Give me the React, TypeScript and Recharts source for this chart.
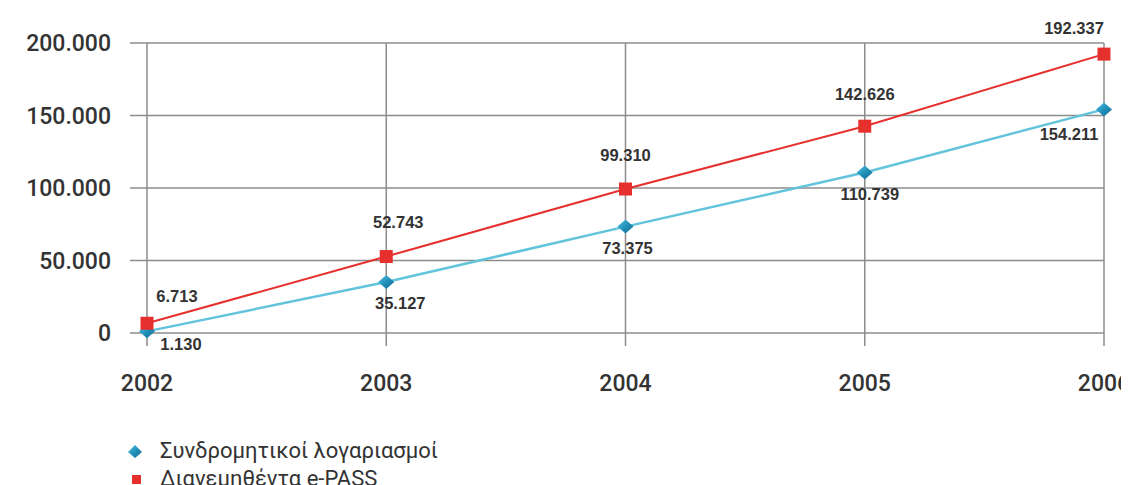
import React from "react";
import { LineChart, Line, XAxis, YAxis, CartesianGrid, LabelList } from "recharts";

const years = [2002, 2003, 2004, 2005, 2006];
const accounts = [1130, 35127, 73375, 110739, 154211];
const epass = [6713, 52743, 99310, 142626, 192337];
const yTicks = [0, 50000, 100000, 150000, 200000];
const seriesNames = ["Συνδρομητικοί λογαριασμοί", "Διανεμηθέντα e-PASS"];

const data = years.map((y, i) => ({ year: y, accounts: accounts[i], epass: epass[i] }));

const fmt = (v: number) => String(Math.round(v)).replace(/\B(?=(\d{3})+(?!\d))/g, ".");

const RED = "#e5302e";
const BLUE_LINE = "#62c3dc";
const GRID = "#8c8c8c";
const TEXT = "#333333";
const FONT = "'Liberation Sans', Arial, sans-serif";
const TICK_FONT = "Roboto, 'Liberation Sans', Arial, sans-serif";

const redLabelOffsets = [
  [30, -27],
  [12, -35],
  [0, -34],
  [0, -32],
  [-30, -26],
];
const blueLabelOffsets = [
  [34, 13],
  [14, 21],
  [2, 21],
  [5, 22],
  [-35, 25],
];

const makeLabel = (offsets: number[][]) => (props: any) => {
  const { x, y, value, index } = props;
  const [dx, dy] = offsets[index] || [0, 0];
  return (
    <text
      x={x + dx}
      y={y + dy}
      textAnchor="middle"
      dominantBaseline="central"
      fontFamily={FONT}
      fontSize={16.5}
      fontWeight="bold"
      fill={TEXT}
    >
      {fmt(value)}
    </text>
  );
};

const SquareDot = (props: any) => {
  const { cx, cy, index } = props;
  if (cx == null || cy == null) return <g key={`s${index}`} />;
  return <rect key={`s${index}`} x={cx - 6.5} y={cy - 6.5} width={13} height={13} fill={RED} />;
};

const DiamondDot = (props: any) => {
  const { cx, cy, index } = props;
  if (cx == null || cy == null) return <g key={`d${index}`} />;
  const w = 8, h = 7;
  return (
    <g key={`d${index}`}>
      <polygon points={`${cx - w},${cy} ${cx},${cy - h} ${cx + w},${cy} ${cx},${cy + h}`} fill="url(#diamondGrad)" />
    </g>
  );
};

export default function App() {
  return (
    <div style={{ position: "relative", width: 1121, height: 477 }}>
      <LineChart
        width={1121}
        height={477}
        data={data}
        margin={{ top: 35, right: 25, bottom: 92, left: 0 }}
      >
        <defs>
          <linearGradient id="diamondGrad" x1="0" y1="0" x2="1" y2="1">
            <stop offset="0%" stopColor="#4cc0e3" />
            <stop offset="55%" stopColor="#1f8cb6" />
            <stop offset="100%" stopColor="#156e93" />
          </linearGradient>
        </defs>
        <CartesianGrid stroke={GRID} strokeWidth={1.5} vertical={true} horizontal={true} />
        <XAxis
          dataKey="year"
          type="number"
          domain={[2002, 2006]}
          ticks={years}
          axisLine={false}
          tickLine={{ stroke: GRID, strokeWidth: 1.5 }}
          tickSize={13}
          tickMargin={29}
          height={60}
          interval={0}
          tick={{ fill: TEXT, fontSize: 23, fontFamily: TICK_FONT, fontWeight: 500 }}
        />
        <YAxis
          type="number"
          domain={[0, 200000]}
          ticks={yTicks}
          axisLine={false}
          tickLine={{ stroke: GRID, strokeWidth: 1.5 }}
          tickSize={17}
          tickMargin={19}
          width={139}
          tickFormatter={fmt}
          tick={{ fill: TEXT, fontSize: 23, fontFamily: TICK_FONT, fontWeight: 500 }}
        />
        <Line
          dataKey="accounts"
          stroke={BLUE_LINE}
          strokeWidth={2.5}
          dot={DiamondDot}
          activeDot={false}
          isAnimationActive={false}
        >
          <LabelList dataKey="accounts" content={makeLabel(blueLabelOffsets)} />
        </Line>
        <Line
          dataKey="epass"
          stroke={RED}
          strokeWidth={2}
          dot={SquareDot}
          activeDot={false}
          isAnimationActive={false}
        >
          <LabelList dataKey="epass" content={makeLabel(redLabelOffsets)} />
        </Line>
      </LineChart>
      <div
        style={{
          position: "absolute",
          left: 119,
          top: 429,
          color: TEXT,
          fontFamily: TICK_FONT,
          fontSize: 22,
          lineHeight: "28px",
        }}
      >
        <div style={{ display: "flex", alignItems: "center", height: 28 }}>
          <svg width={33} height={20}>
            <defs>
              <linearGradient id="legendDiamond" x1="0" y1="0" x2="1" y2="1">
                <stop offset="0%" stopColor="#4cc0e3" />
                <stop offset="55%" stopColor="#1f8cb6" />
                <stop offset="100%" stopColor="#156e93" />
              </linearGradient>
            </defs>
            <polygon points="1,11 8,4 15,11 8,17" fill="url(#legendDiamond)" />
          </svg>
          <span>{seriesNames[0]}</span>
        </div>
        <div style={{ display: "flex", alignItems: "center", height: 28 }}>
          <svg width={33} height={20}>
            <rect x={5} y={6} width={9} height={9} fill={RED} />
          </svg>
          <span>{seriesNames[1]}</span>
        </div>
      </div>
    </div>
  );
}
